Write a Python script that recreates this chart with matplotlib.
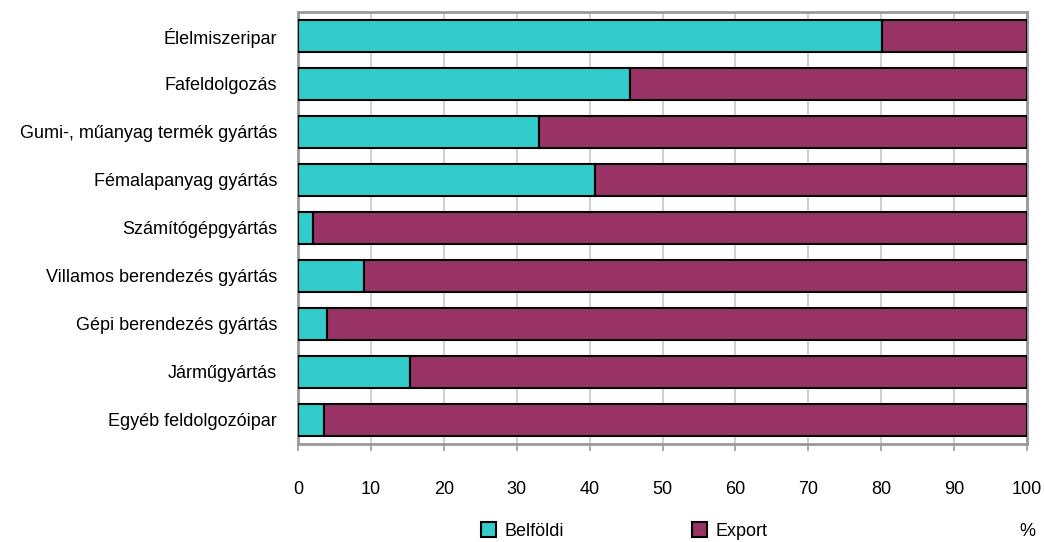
import matplotlib
matplotlib.use("Agg")
import matplotlib.pyplot as plt
from matplotlib.patches import Patch

plt.rcParams['font.family'] = ['Liberation Sans', 'DejaVu Sans']

categories = [
    "Élelmiszeripar",
    "Fafeldolgozás",
    "Gumi-, műanyag termék gyártás",
    "Fémalapanyag gyártás",
    "Számítógépgyártás",
    "Villamos berendezés gyártás",
    "Gépi berendezés gyártás",
    "Járműgyártás",
    "Egyéb feldolgozóipar",
]
belfoldi = [80.1, 45.6, 33.1, 40.8, 2.1, 9.0, 4.0, 15.3, 3.5]
export = [100 - v for v in belfoldi]
series_names = ["Belföldi", "Export"]
colors = ["#33CCCC", "#993366"]
xticks = [0, 10, 20, 30, 40, 50, 60, 70, 80, 90, 100]

fs = 13
fig = plt.figure(figsize=(10.44, 5.42), dpi=100)
ax = fig.add_axes([298/1044, 1 - 444/542, (1027-298)/1044, (444-12)/542])

y = list(range(len(categories)))
ax.barh(y, belfoldi, height=0.667, color=colors[0], edgecolor="black", linewidth=1.5, zorder=3)
ax.barh(y, export, left=belfoldi, height=0.667, color=colors[1], edgecolor="black", linewidth=1.5, zorder=3)

ax.set_xlim(0, 100)
ax.set_ylim(len(categories) - 0.5, -0.5)
ax.set_yticks(y)
ax.set_yticklabels(categories, fontsize=fs)
ax.set_xticks(xticks)
ax.set_xticklabels([str(v) for v in xticks], fontsize=fs)
ax.tick_params(axis='y', length=0, pad=15)
ax.tick_params(axis='x', length=5, width=1.2, color="#999999", pad=22)
ax.grid(axis='x', color="#c8c8c8", linewidth=1.2, zorder=0)
ax.set_axisbelow(True)
for s in ax.spines.values():
    s.set_color("#999999")
    s.set_linewidth(2)

handles = [Patch(facecolor=colors[0], edgecolor="black", linewidth=1.5),
           Patch(facecolor=colors[1], edgecolor="black", linewidth=1.5)]
fig.legend(handles, series_names, loc='center', bbox_to_anchor=(624/1044, 1 - 531/542),
           ncol=2, frameon=False, fontsize=fs, handlelength=0.85, handleheight=0.85,
           handletextpad=0.45, columnspacing=7.1, borderpad=0, borderaxespad=0)
fig.text(1027/1044, 1 - 531/542, "%", fontsize=fs, ha='center', va='center')

fig.savefig("out.png", dpi=100)
